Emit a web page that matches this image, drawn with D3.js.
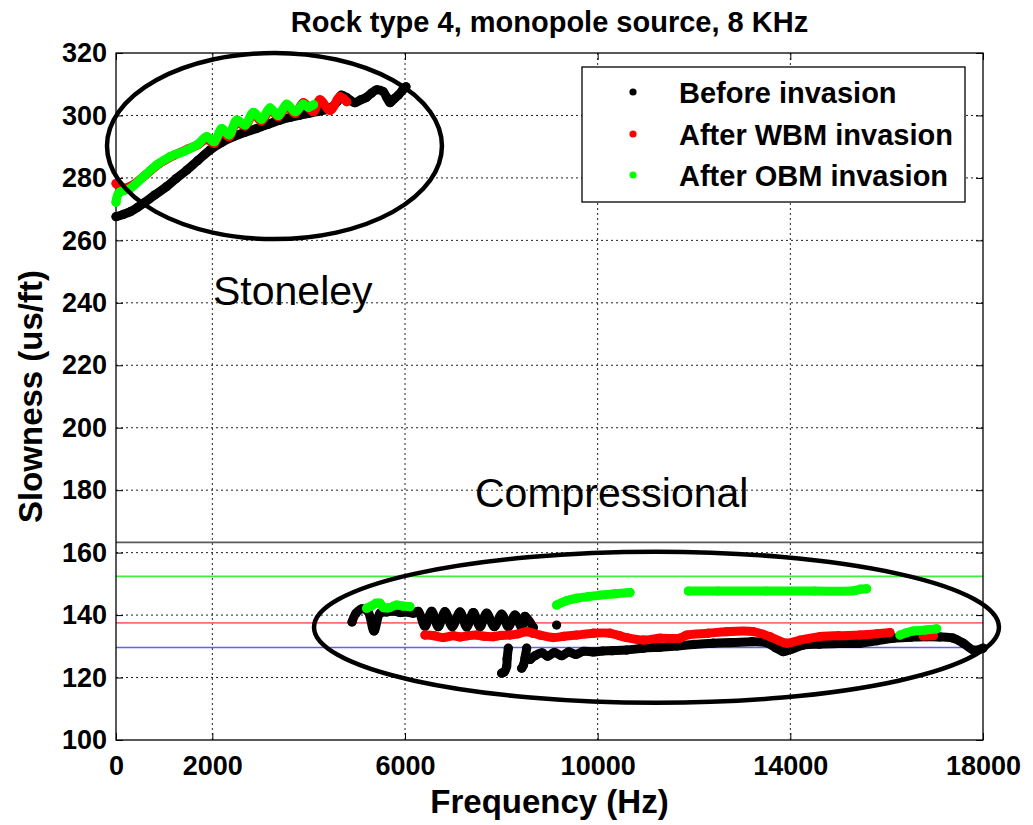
<!DOCTYPE html>
<html>
<head>
<meta charset="utf-8">
<script src="https://cdn.jsdelivr.net/npm/d3@7/dist/d3.min.js"></script>
<style>
  html, body { margin: 0; padding: 0; background: #fff; }
  svg { display: block; }
  text { font-family: "Liberation Sans", Arial, Helvetica, sans-serif; }
</style>
</head>
<body>
<script>
// ---- tick labels ----
const xTicks = [0, 2000, 6000, 10000, 14000, 18000];
const yTicks = [100, 120, 140, 160, 180, 200, 220, 240, 260, 280, 300, 320];

// ---- Stoneley mode: [frequency Hz, slowness us/ft] ----
const beforeStoneley = [
  [0,267.6],[150,268.3],[300,269.2],[450,270.6],[600,272.2],[800,274.5],[1050,277.2],
  [1250,279.8],[1470,282.5],[1700,285.6],[1950,288.9],[2200,291.4],[2440,293.2],
  [2680,294.6],[2920,295.8],[3160,297.2],[3400,298.5],[3620,299.4],[3820,300.1],
  [4000,300.7],[4170,301.2],[4350,301.8],[4500,302.8],[4600,304.6],[4680,306.5],
  [4800,305.6],[4960,304.1],[5080,305.0],[5200,305.8],[5300,307.1],[5410,308.2],
  [5550,307.6],[5620,305.8],[5690,304.1],[5780,305.4],[5860,306.5],[5940,307.9],[6020,309.2]
];
const wbmStoneley = [
  [0,278.2],[120,276.8],[300,277.3],[600,280.8],[900,284.6],[1200,287.2],[1500,289.3],
  [1700,290.6],[1880,292.4],[2040,291.0],[2190,295.0],[2350,293.2],[2500,297.8],
  [2680,296.6],[2850,300.4],[3020,298.2],[3200,301.8],[3370,299.6],[3540,303.0],
  [3720,300.6],[3890,304.1],[4096,301.2],[4235,305.0],[4443,301.6],[4650,306.0],[4790,304.4]
];
const obmStoneley = [
  [0,272.2],[60,275.2],[290,276.6],[570,280.4],[840,284.1],[1120,286.8],[1400,288.4],
  [1560,289.6],[1700,290.8],[1883,293.2],[2040,291.6],[2194,295.8],[2350,293.8],
  [2505,298.5],[2680,297.0],[2851,301.0],[3020,298.8],[3197,302.4],[3370,300.0],
  [3543,303.6],[3720,301.2],[3889,303.6],[4000,302.6],[4100,303.4]
];

// ---- Compressional mode ----
const beforeCompUpper = [
  [4900,137.8],[4980,140.5],[5100,142.0],[5230,141.2],[5356,134.9],[5481,140.6],
  [5620,141.0],[5760,141.3],[5900,140.8],[6035,141.0],[6173,140.6],[6276,141.2],
  [6414,136.4],[6553,141.2],[6691,136.3],[6829,141.1],[6981,136.3],[7142,141.0],
  [7280,136.2],[7418,140.8],[7557,136.3],[7695,140.6],[7854,136.3],[8006,140.3],
  [8145,136.3],[8283,140.0],[8422,136.1],[8491,139.6],[8664,136.0]
];
const beforeCompDot = [[9148,136.8]];
const beforeCompHook1 = [[8145,129.4],[8120,126.0],[8110,123.5],[8060,121.8],[8006,121.4]];
const beforeCompHook2 = [[8526,129.4],[8500,127.0],[8491,126.2],[8460,124.0],[8422,123.0]];
const beforeCompLower = [
  [8600,125.8],[8700,127.0],[8850,127.9],[8960,126.8],[9100,128.0],[9250,127.0],
  [9400,128.2],[9550,127.4],[9700,128.4],[9900,128.2],[10100,128.5],[10300,128.6],
  [10600,128.8],[10950,129.4],[11300,129.7],[11650,130.1],[12000,130.6],[12400,131.0],
  [12800,131.2],[13200,131.5],[13500,131.2],[13700,129.5],[13850,128.3],[14050,129.2],
  [14270,130.4],[14600,130.7],[15000,130.9],[15450,131.0],[15800,131.8],[16140,132.6],
  [16500,132.9],[16830,133.1],[17100,133.0],[17380,132.6],[17590,131.0],[17800,128.8],[18000,129.4]
];
const wbmComp = [
  [6414,133.6],[6600,133.4],[6796,132.8],[7000,133.4],[7142,133.0],[7300,133.4],
  [7488,133.6],[7650,133.2],[7834,133.1],[8000,133.5],[8180,133.6],[8350,134.0],
  [8526,134.7],[8650,134.2],[8802,133.6],[9079,132.8],[9300,133.2],[9564,133.6],
  [9910,134.2],[10256,134.2],[10450,133.4],[10602,132.8],[10948,132.0],[11294,132.6],
  [11709,132.6],[11848,133.6],[12300,134.2],[12678,134.7],[13231,134.7],[13577,133.1],
  [13923,131.0],[14200,132.0],[14615,133.1],[15000,133.4],[15446,133.6],[15800,134.0],[16068,134.4]
];
const wbmCompTail = [[16760,133.3],[16970,133.4]];
const obmCompA = [[5204,142.2],[5300,142.9],[5400,143.8],[5481,143.8],[5550,142.4],[5650,142.3],[5827,143.2],[5950,142.9],[6104,142.7]];
const obmCompB = [[9148,143.2],[9350,144.6],[9564,145.4],[9800,145.9],[10048,146.4],[10350,146.8],[10671,147.2]];
const obmCompC = [[11883,147.7],[12500,147.7],[13500,147.7],[14500,147.7],[15308,147.8],[15450,148.3],[15585,148.4]];
const obmCompD = [[16276,133.6],[16420,134.4],[16553,134.9],[16800,135.2],[17037,135.6]];

// ---- horizontal reference levels (us/ft) ----
const refLevels = [163.3, 152.4, 137.5, 129.6];
const refColors = ["#5a5a5a", "#3cf03c", "#ff6b6b", "#5f5fff"];

// ---- legend ----
const legendLabels = ["Before invasion", "After WBM invasion", "After OBM invasion"];
const seriesColors = ["#000000", "#ff0000", "#00ff00"];

// ---- ellipse annotations [centre f, centre s, half-width Hz, half-height us/ft] ----
const stoneleyRing = [3290, 290.2, 3477, 29.8];
const compRing = [11221, 136.1, 7110, 24.2];

const W = 1033, H = 825;
const plotL = 116, plotR = 983, plotT = 53, plotB = 740;

const svg = d3.select("body").append("svg").attr("width", W).attr("height", H);

const x = d3.scaleLinear().domain([0, 18000]).range([plotL, plotR]);
const y = d3.scaleLinear().domain([100, 320]).range([plotB, plotT]);

// grid
const grid = svg.append("g");
grid.selectAll("line.gx").data(xTicks.filter(d => d > 0 && d < 18000)).join("line")
  .attr("class", "gx")
  .attr("x1", d => x(d)).attr("x2", d => x(d)).attr("y1", plotT).attr("y2", plotB)
  .attr("stroke", "#222").attr("stroke-width", 1).attr("stroke-dasharray", "2,3");
grid.selectAll("line.gy").data(yTicks.filter(d => d > 100 && d < 320)).join("line")
  .attr("class", "gy")
  .attr("x1", plotL).attr("x2", plotR).attr("y1", d => y(d)).attr("y2", d => y(d))
  .attr("stroke", "#222").attr("stroke-width", 1).attr("stroke-dasharray", "2,3");

// reference lines
svg.append("g").selectAll("line").data(refLevels).join("line")
  .attr("x1", plotL).attr("x2", plotR)
  .attr("y1", d => y(d)).attr("y2", d => y(d))
  .attr("stroke", (d, i) => refColors[i]).attr("stroke-width", 1.6);

// axes
const fontStack = '"Liberation Sans", Arial, sans-serif';
function styleAxis(g, showText) {
  g.select(".domain").remove();
  g.selectAll(".tick line").attr("stroke", "#000").attr("stroke-width", 1);
  g.selectAll(".tick text").attr("font-family", fontStack).attr("font-size", 27)
    .attr("font-weight", "bold").attr("fill", "#000");
  if (!showText) g.selectAll(".tick text").remove();
}
svg.append("g").attr("transform", `translate(0,${plotB})`)
  .call(d3.axisBottom(x).tickValues(xTicks).tickSizeInner(-7).tickSizeOuter(0).tickPadding(16).tickFormat(d3.format("d")))
  .call(g => styleAxis(g, true));
svg.append("g").attr("transform", `translate(0,${plotT})`)
  .call(d3.axisTop(x).tickValues(xTicks).tickSizeInner(-7).tickSizeOuter(0))
  .call(g => styleAxis(g, false));
svg.append("g").attr("transform", `translate(${plotL},0)`)
  .call(d3.axisLeft(y).tickValues(yTicks).tickSizeInner(-7).tickSizeOuter(0).tickPadding(9))
  .call(g => styleAxis(g, true));
svg.append("g").attr("transform", `translate(${plotR},0)`)
  .call(d3.axisRight(y).tickValues(yTicks).tickSizeInner(-7).tickSizeOuter(0))
  .call(g => styleAxis(g, false));

// frame
svg.append("rect").attr("x", plotL).attr("y", plotT).attr("width", plotR - plotL).attr("height", plotB - plotT)
  .attr("fill", "none").attr("stroke", "#000").attr("stroke-width", 1.3);

// dotted series: dense markers drawn as a thick rounded trace plus dots
const line = d3.line().x(d => x(d[0])).y(d => y(d[1])).curve(d3.curveCatmullRom.alpha(0.5));
function drawSeries(pts, color) {
  const g = svg.append("g");
  if (pts.length > 1) {
    g.append("path").attr("d", line(pts)).attr("fill", "none").attr("stroke", color)
      .attr("stroke-width", 9).attr("stroke-linecap", "round").attr("stroke-linejoin", "round");
  }
  g.selectAll("circle").data(pts).join("circle")
    .attr("cx", d => x(d[0])).attr("cy", d => y(d[1])).attr("r", 4.6).attr("fill", color);
}
[beforeStoneley, beforeCompUpper, beforeCompDot, beforeCompHook1, beforeCompHook2, beforeCompLower]
  .forEach(s => drawSeries(s, seriesColors[0]));
[wbmStoneley, wbmComp, wbmCompTail].forEach(s => drawSeries(s, seriesColors[1]));
[obmStoneley, obmCompA, obmCompB, obmCompC, obmCompD].forEach(s => drawSeries(s, seriesColors[2]));

// ellipse annotations
function ring(r) {
  svg.append("ellipse")
    .attr("cx", x(r[0])).attr("cy", y(r[1]))
    .attr("rx", x(r[0] + r[2]) - x(r[0])).attr("ry", y(r[1] - r[3]) - y(r[1]))
    .attr("fill", "none").attr("stroke", "#000").attr("stroke-width", 4.5);
}
ring(stoneleyRing);
ring(compRing);

// mode labels
svg.append("text").attr("x", 213).attr("y", 305).attr("font-size", 41).text("Stoneley");
svg.append("text").attr("x", 475).attr("y", 507).attr("font-size", 41).text("Compressional");

// legend
const lg = svg.append("g");
lg.append("rect").attr("x", 582).attr("y", 67).attr("width", 383).attr("height", 135)
  .attr("fill", "#fff").attr("stroke", "#000").attr("stroke-width", 1.3);
const rowY = [92, 134, 175];
legendLabels.forEach((lab, i) => {
  lg.append("circle").attr("cx", 633).attr("cy", rowY[i]).attr("r", 3.6).attr("fill", seriesColors[i]);
  lg.append("text").attr("x", 679).attr("y", rowY[i] + 11).attr("font-size", 29)
    .attr("font-weight", "bold").text(lab);
});

// titles
svg.append("text").attr("x", (plotL + plotR) / 2).attr("y", 32).attr("text-anchor", "middle")
  .attr("font-size", 29).attr("font-weight", "bold").text("Rock type 4, monopole source, 8 KHz");
svg.append("text").attr("x", (plotL + plotR) / 2).attr("y", 813).attr("text-anchor", "middle")
  .attr("font-size", 33).attr("font-weight", "bold").text("Frequency (Hz)");
svg.append("text").attr("transform", `translate(42,${(plotT + plotB) / 2}) rotate(-90)`)
  .attr("text-anchor", "middle").attr("font-size", 33).attr("font-weight", "bold").text("Slowness (us/ft)");
</script>
</body>
</html>
